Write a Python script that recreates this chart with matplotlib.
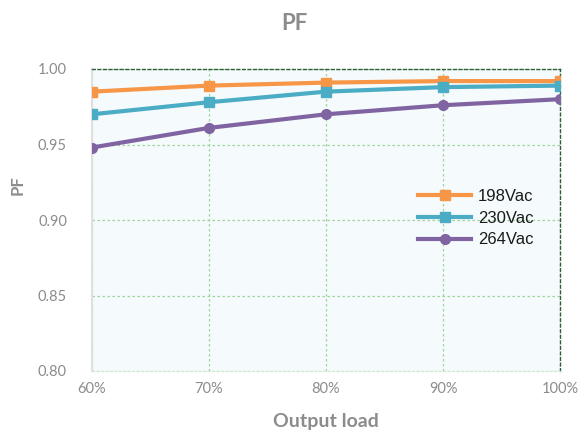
import matplotlib
matplotlib.use("Agg")
import matplotlib.pyplot as plt

loads = [60, 70, 80, 90, 100]
x_labels = ["60%", "70%", "80%", "90%", "100%"]
pf_198 = [0.985, 0.989, 0.991, 0.992, 0.992]
pf_230 = [0.970, 0.978, 0.985, 0.988, 0.989]
pf_264 = [0.948, 0.961, 0.970, 0.976, 0.980]
y_ticks = [0.80, 0.85, 0.90, 0.95, 1.00]

plt.rcParams['font.family'] = ['Lato', 'DejaVu Sans']
gray = '#8c8c8c'

fig = plt.figure(figsize=(5.88, 4.38), dpi=100)
ax = fig.add_axes([92/588, 1-371/438, (560-92)/588, (371-69)/438])
ax.set_facecolor('#f5fafc')

ax.plot(loads, pf_198, color='#f79646', lw=3, marker='s', ms=7, label='198Vac', zorder=5)
ax.plot(loads, pf_230, color='#4bacc6', lw=3, marker='s', ms=7, label='230Vac', zorder=5)
ax.plot(loads, pf_264, color='#8064a2', lw=3, marker='o', ms=7, label='264Vac', zorder=5)

ax.set_xlim(60, 100)
ax.set_ylim(0.80, 1.00)
ax.set_xticks(loads)
ax.set_xticklabels(x_labels)
ax.set_yticks(y_ticks)
ax.set_yticklabels([f"{v:.2f}" for v in y_ticks])
ax.tick_params(axis='both', length=0, labelsize=10.5, colors=gray)
ax.tick_params(axis='x', pad=8)
ax.tick_params(axis='y', pad=18)

ax.grid(True, color='#9ed49e', linestyle=(0, (2, 2)), lw=0.9)
for s in ['top', 'right']:
    ax.spines[s].set_color('#2f5f3a')
    ax.spines[s].set_linestyle((0, (2, 2)))
    ax.spines[s].set_linewidth(1.0)
ax.spines['left'].set_color('#e0e0e0')
ax.spines['left'].set_linewidth(1.5)
ax.spines['bottom'].set_color('#cfe8cf')
ax.spines['bottom'].set_linestyle((0, (2, 2)))

ax.set_xlabel('Output load', fontsize=14, fontweight='bold', color=gray, labelpad=12)
ax.set_ylabel('PF', fontsize=12, fontweight='bold', color=gray)
ax.yaxis.set_label_coords((26-92)/468, 1-(185-69)/302)
fig.text(0.5, 1-23/438, 'PF', ha='center', va='center', fontsize=16, fontweight='bold', color=gray)

leg = ax.legend(loc='upper left', bbox_to_anchor=((418-92)/468, 1-(189-69)/302), frameon=False,
                prop={'family': ['Liberation Sans', 'DejaVu Sans'], 'size': 12},
                handlelength=3.2, handletextpad=0.4, labelspacing=0.4, borderaxespad=0, borderpad=0)
for t in leg.get_texts():
    t.set_color('#1a1a1a')

fig.savefig('out.png', dpi=100)
